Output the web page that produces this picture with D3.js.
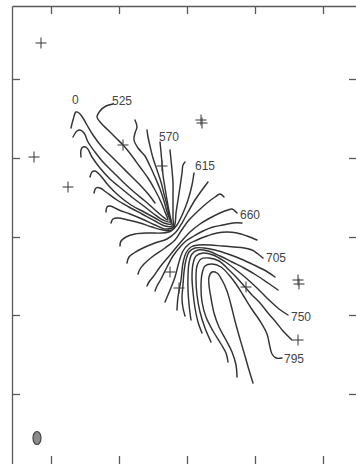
<!DOCTYPE html>
<html>
<head>
<meta charset="utf-8">
<script src="https://cdn.jsdelivr.net/npm/d3@7"></script>
<style>
  html, body { margin: 0; padding: 0; background: #fff; }
  svg { display: block; }
</style>
</head>
<body>
<div id="chart"></div>
<script>
// Isovelocity contours (km/s) over the sky field, offsets in map units.
const xTicks = [39, 107, 175, 243, 311];
const yTicks = [73, 152, 231, 309, 388];

const c510 = [[59,122],[61,114],[64,106],[67,107],[71,112],[75,119],[81,129],[90,141],[100,151],[110,161],[120,171],[129,180],[137,189],[143,197]];
const c525 = [[101,98],[94,100],[88,105],[85,111],[89,117],[96,124],[104,132],[112,140],[120,150],[128,161],[136,172],[143,184],[149,196],[153,206],[156,214],[150,210],[142,203],[133,195],[122,186],[111,176],[101,166],[91,156],[83,146],[76,136],[72,127],[68,124],[65,125],[61,131]];
const c540 = [[123,114],[125,121],[123,127],[122,134],[126,142],[133,150],[138,160],[143,171],[148,183],[152,195],[155,206],[158,216],[151,214],[142,208],[133,201],[121,192],[110,183],[98,173],[88,162],[80,151],[75,142],[71,141],[69,144],[69,151]];
const c555 = [[135,124],[136,131],[138,140],[141,152],[145,164],[149,176],[152,188],[155,199],[157,209],[159,218],[152,217],[143,212],[132,206],[119,199],[106,189],[96,179],[88,169],[83,165],[80,166],[78,171]];
const c570 = [[148,136],[149,146],[150,157],[151,169],[153,182],[155,194],[157,205],[159,214],[160,220],[153,220],[143,215],[130,208],[117,201],[105,194],[94,186],[88,182],[84,182],[82,187]];
const c585 = [[158,144],[159,154],[160,164],[161,177],[161,190],[161,202],[161,212],[161,221],[154,223],[143,219],[130,213],[118,208],[107,204],[98,200],[95,201],[94,206]];
const c600 = [[173,156],[171,159],[170,167],[168,181],[166,194],[164,207],[163,218],[160,224],[151,224],[140,221],[128,217],[116,214],[106,212],[101,213],[99,217]];
const c615 = [[182,167],[180,179],[176,194],[171,207],[165,219],[159,225],[150,227],[136,227],[123,228],[114,231],[109,235],[108,240]];
const c630 = [[196,176],[190,184],[183,194],[176,206],[170,217],[164,226],[155,233],[143,237],[131,242],[122,247],[117,251],[115,257]];
const c645 = [[212,191],[208,188],[203,191],[195,197],[186,205],[177,214],[169,225],[163,234],[153,242],[140,251],[132,258],[128,263],[126,268]];
const c660 = [[225,207],[220,203],[216,204],[208,207],[198,212],[188,218],[178,226],[168,237],[158,249],[148,261],[141,271],[137,276],[135,280]];
const c675 = [[230,217],[221,217],[211,219],[201,221],[191,225],[182,230],[174,235],[168,241],[161,250],[155,261],[149,273],[145,280],[143,285]];
const c690 = [[245,234],[235,230],[225,227],[215,226],[205,227],[195,230],[185,234],[177,238],[171,245],[167,256],[163,271],[158,284],[153,296]];
const c705 = [[251,252],[246,248],[240,244],[232,242],[222,241],[210,240],[198,239],[187,239],[179,241],[174,247],[171,257],[169,274],[166,291],[165,304]];
const c720 = [[263,271],[254,265],[242,259],[229,253],[216,248],[203,244],[192,242],[183,242],[177,246],[174,254],[172,266],[171,279],[170,292],[171,302],[173,310]];
const c735 = [[266,284],[256,277],[244,269],[232,262],[220,256],[208,250],[196,245],[186,244],[180,248],[177,257],[176,270],[176,284],[177,298],[178,307],[179,314]];
const c750 = [[276,309],[267,303],[256,293],[245,282],[234,272],[223,263],[212,255],[201,249],[191,247],[184,250],[181,258],[180,271],[181,286],[183,302],[186,316],[190,327]];
const c765 = [[280,334],[271,325],[263,315],[256,307],[248,297],[240,289],[233,281],[225,272],[216,263],[207,255],[197,252],[189,253],[185,260],[184,273],[185,289],[188,306],[193,322],[199,336]];
const c795 = [[270,352],[264,352],[260,348],[258,341],[255,328],[248,315],[239,302],[231,289],[224,278],[217,269],[209,261],[200,258],[193,260],[190,268],[189,281],[190,296],[194,311],[201,325],[209,338],[214,347],[216,356]];
const c810 = [[225,371],[224,359],[220,346],[214,334],[207,321],[202,307],[199,292],[197,279],[197,271],[200,266],[205,267],[210,274],[215,285],[219,299],[223,315],[228,333],[233,350],[237,364],[241,377]];

const levels = [510, 525, 540, 555, 570, 585, 600, 615, 630, 645, 660, 675, 690, 705, 720, 735, 750, 765, 795, 810];
const contourPoints = [c510, c525, c540, c555, c570, c585, c600, c615, c630, c645, c660, c675, c690, c705, c720, c735, c750, c765, c795, c810];

// Contour labels
const labelTexts = ["0", "525", "570", "615", "660", "705", "750", "795"];
const labelX = [60, 100, 147, 183, 228, 254, 279, 272];
const labelY = [98, 99, 135, 164, 213, 256, 315, 357];

// Point sources
const sourceX = [29, 22, 56, 111, 150, 189, 190, 158, 167, 234, 286, 287, 286];
const sourceY = [37, 151, 181, 139, 160, 114, 117, 266, 282, 281, 274, 278, 334];

// Beam
const beamCentre = [25, 432];
const beamSize = [8, 13];

const W = 356, H = 464;
const svg = d3.select("#chart").append("svg")
  .attr("width", W).attr("height", H)
  .attr("viewBox", `0 0 ${W} ${H}`);

const x = d3.scaleLinear().domain([0, 345]).range([12, 357]);
const y = d3.scaleLinear().domain([0, 459]).range([6, 465]);

const ink = "#333";
const frameInk = "#5a5a5a";

// Frame with inward ticks on all four sides
function styleAxis(g) {
  g.selectAll("path.domain").attr("stroke", frameInk).attr("stroke-width", 1.3);
  g.selectAll(".tick line").attr("stroke", frameInk).attr("stroke-width", 1.3);
}
svg.append("g").attr("transform", `translate(0,${y(0)})`)
  .call(d3.axisTop(x).tickValues(xTicks).tickSize(-8).tickSizeOuter(0).tickFormat(""))
  .call(styleAxis);
svg.append("g").attr("transform", `translate(0,${y(459)})`)
  .call(d3.axisBottom(x).tickValues(xTicks).tickSize(-9).tickSizeOuter(0).tickFormat(""))
  .call(styleAxis);
svg.append("g").attr("transform", `translate(${x(0)},0)`)
  .call(d3.axisLeft(y).tickValues(yTicks).tickSize(-8).tickSizeOuter(0).tickFormat(""))
  .call(styleAxis);
svg.append("g").attr("transform", `translate(${x(345)},0)`)
  .call(d3.axisRight(y).tickValues(yTicks).tickSize(-8).tickSizeOuter(0).tickFormat(""))
  .call(styleAxis);

// Contours
const line = d3.line()
  .x(d => x(d[0])).y(d => y(d[1]))
  .curve(d3.curveCatmullRom.alpha(0.5));

const contours = levels.map((v, i) => ({ level: v, pts: contourPoints[i] }));
svg.append("g").selectAll("path")
  .data(contours)
  .join("path")
  .attr("d", d => line(d.pts))
  .attr("fill", "none")
  .attr("stroke", ink)
  .attr("stroke-width", 1.45)
  .attr("stroke-linecap", "round")
  .attr("stroke-linejoin", "round");

// Sources as plus signs
const arm = 5.5;
const sources = sourceX.map((sx, i) => [sx, sourceY[i]]);
const sg = svg.append("g").attr("stroke", "#444").attr("stroke-width", 1.1);
sg.selectAll("line.h").data(sources).join("line").attr("class", "h")
  .attr("x1", d => x(d[0]) - arm).attr("x2", d => x(d[0]) + arm)
  .attr("y1", d => y(d[1])).attr("y2", d => y(d[1]));
sg.selectAll("line.v").data(sources).join("line").attr("class", "v")
  .attr("x1", d => x(d[0])).attr("x2", d => x(d[0]))
  .attr("y1", d => y(d[1]) - arm).attr("y2", d => y(d[1]) + arm);

// Labels
svg.append("g").selectAll("text")
  .data(labelTexts)
  .join("text")
  .attr("x", (t, i) => x(labelX[i]))
  .attr("y", (t, i) => y(labelY[i]))
  .attr("font-family", "'Liberation Sans', Arial, sans-serif")
  .attr("font-size", 12)
  .attr("fill", "#444")
  .text(t => t);

// Beam ellipse
svg.append("ellipse")
  .attr("cx", x(beamCentre[0])).attr("cy", y(beamCentre[1]))
  .attr("rx", (x(beamSize[0]) - x(0)) / 2)
  .attr("ry", (y(beamSize[1]) - y(0)) / 2)
  .attr("fill", "#8c8c8c")
  .attr("stroke", "#444")
  .attr("stroke-width", 1.2);
</script>
</body>
</html>
